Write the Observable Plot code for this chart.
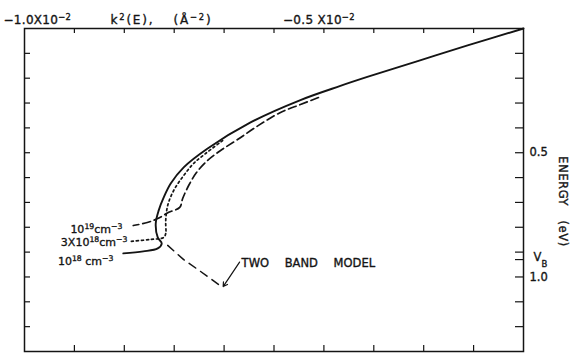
<!DOCTYPE html>
<html>
<head>
<meta charset="utf-8">
<script src="https://cdn.jsdelivr.net/npm/d3@7"></script>
<script src="https://cdn.jsdelivr.net/npm/@observablehq/plot@0.6"></script>
<style>
  html, body { margin: 0; padding: 0; background: #fff; }
</style>
</head>
<body>
<div id="chart"></div>
<script>
// k²(E) in units of 10⁻² Å⁻² (horizontal), energy in eV (increasing downward)

// 10¹⁸ cm⁻³ (solid)
const k18 = [0, -0.112, -0.212, -0.313, -0.367, -0.447, -0.547, -0.633, -0.681, -0.707, -0.721, -0.731, -0.737, -0.733, -0.725, -0.733, -0.762, -0.802];
const e18 = [0, 0.068, 0.131, 0.195, 0.231, 0.288, 0.378, 0.483, 0.559, 0.624, 0.680, 0.732, 0.785, 0.841, 0.865, 0.885, 0.897, 0.905];

// 3×10¹⁸ cm⁻³ (dotted)
const k3e18 = [-0.603, -0.637, -0.661, -0.681, -0.701, -0.713, -0.717, -0.717, -0.721, -0.747, -0.788];
const e3e18 = [0.451, 0.503, 0.543, 0.592, 0.652, 0.712, 0.773, 0.825, 0.841, 0.849, 0.857];

// 10¹⁹ cm⁻³ (dashed)
const k19 = [-0.411, -0.447, -0.487, -0.531, -0.573, -0.607, -0.633, -0.655, -0.671, -0.683, -0.689, -0.711, -0.733, -0.754, -0.782];
const e19 = [0.278, 0.306, 0.338, 0.390, 0.447, 0.491, 0.531, 0.579, 0.632, 0.684, 0.720, 0.740, 0.765, 0.781, 0.793];

// two band model (long dashes)
const kTwoBand = [-0.713, -0.681, -0.647, -0.603];
const eTwoBand = [0.873, 0.930, 0.978, 1.042];

// curve labels, in the order 10¹⁸, 3×10¹⁸, 10¹⁹
const concentrationLabels = ["10¹⁸ cm⁻³", "3X10¹⁸cm⁻³", "10¹⁹cm⁻³"];
const twoBandLabel = "TWO BAND MODEL";

// axis ticks and labels
const kTicks = [-0.9, -0.8, -0.7, -0.6, -0.5, -0.4, -0.3, -0.2, -0.1];
const eTicks = [0.1, 0.2, 0.3, 0.4, 0.5, 0.6, 0.7, 0.8, 0.9, 1.0, 1.1, 1.2];
const topTickValues = [-1.0, -0.5];
const topTickTexts = ["−1.0X10⁻²", "−0.5 X10⁻²"];
const rightTickValues = [0.5, 1.0];
const vB = 0.93;
const kTitle = ["k²(E),", "(Å⁻²)"];
const eTitle = "ENERGY (eV)";

const toRows = (ks, es) => ks.map((k, i) => ({k, E: es[i]}));
const s18 = toRows(k18, e18);
const s3e18 = toRows(k3e18, e3e18);
const s19 = toRows(k19, e19);
const sTwoBand = toRows(kTwoBand, eTwoBand);

const W = 571, H = 353;
const mL = 24, mR = 48, mT = 28, mB = 2;
const innerW = W - mL - mR, innerH = H - mT - mB;
const ink = "#141414";
const font = "DejaVu Sans";
const lettering = {fill: ink, stroke: ink, strokeWidth: 0.35};

const last = a => a[a.length - 1];

const chart = Plot.plot({
  width: W,
  height: H,
  marginLeft: mL,
  marginRight: mR,
  marginTop: mT,
  marginBottom: mB,
  style: {fontFamily: font, background: "#fff", color: ink, overflow: "visible"},
  x: {domain: [-1, 0], axis: null},
  y: {domain: [0, 1.3], reverse: true, axis: null},
  marks: [
    Plot.frame({stroke: ink, strokeWidth: 1.5}),
    // inward ticks on all four sides
    Plot.tickX(kTicks, {x: d => d, insetBottom: innerH - 5, stroke: ink, strokeWidth: 1.2}),
    Plot.tickX(kTicks, {x: d => d, insetTop: innerH - 6, stroke: ink, strokeWidth: 1.2}),
    Plot.tickY(eTicks, {y: d => d, insetRight: innerW - 6, stroke: ink, strokeWidth: 1.2}),
    Plot.tickY([...eTicks, vB], {y: d => d, insetLeft: innerW - 8, stroke: ink, strokeWidth: 1.2}),

    // curves
    Plot.line(s18, {x: "k", y: "E", stroke: ink, strokeWidth: 1.9, curve: "catmull-rom"}),
    Plot.line(s3e18, {x: "k", y: "E", stroke: ink, strokeWidth: 1.7, strokeDasharray: "2,3", curve: "catmull-rom"}),
    Plot.line(s19, {x: "k", y: "E", stroke: ink, strokeWidth: 1.7, strokeDasharray: "8,4", curve: "catmull-rom"}),
    Plot.line(sTwoBand, {x: "k", y: "E", stroke: ink, strokeWidth: 1.5, strokeDasharray: "8,6"}),

    // curve labels at the left ends of the curves
    Plot.text([concentrationLabels[0]], {x: () => last(k18), y: () => last(e18), dx: -10, dy: 8, textAnchor: "end", fontSize: 11, ...lettering}),
    Plot.text([concentrationLabels[1]], {x: () => last(k3e18), y: () => last(e3e18), dx: -3, dy: 1, textAnchor: "end", fontSize: 11, ...lettering}),
    Plot.text([concentrationLabels[2]], {x: () => last(k19), y: () => last(e19), dx: -11, dy: 4, textAnchor: "end", fontSize: 11, ...lettering}),

    // two band model label with arrow to the end of its curve
    Plot.text([twoBandLabel], {x: () => last(kTwoBand), y: () => last(eTwoBand), dx: 19, dy: -24, textAnchor: "start", fontSize: 11.5, ...lettering}),
    Plot.arrow([0], {
      x1: () => last(kTwoBand) + 0.034, y1: () => last(eTwoBand) - 0.102,
      x2: () => last(kTwoBand), y2: () => last(eTwoBand),
      stroke: ink, strokeWidth: 1.2, headLength: 6, insetEnd: 1
    }),

    // top axis labels
    Plot.text([topTickTexts[0]], {x: () => topTickValues[0], frameAnchor: "top", dy: -13, dx: -21, textAnchor: "start", fontSize: 12, ...lettering}),
    Plot.text([topTickTexts[1]], {x: () => topTickValues[1], frameAnchor: "top", dy: -13, dx: 9, textAnchor: "start", fontSize: 12, ...lettering}),
    Plot.text([kTitle[0]], {frameAnchor: "top-left", dx: 86, dy: -13, textAnchor: "start", fontSize: 12, ...lettering}),
    Plot.text([kTitle[1]], {frameAnchor: "top-left", dx: 149, dy: -13, textAnchor: "start", fontSize: 12, ...lettering}),

    // right axis labels
    Plot.text(rightTickValues, {y: d => d, text: d => d.toFixed(1), frameAnchor: "right", dx: 6, textAnchor: "start", fontSize: 11.5, ...lettering}),
    Plot.text(["V"], {y: () => vB, frameAnchor: "right", dx: 10, dy: -2, textAnchor: "start", fontSize: 11.5, ...lettering}),
    Plot.text(["B"], {y: () => vB, frameAnchor: "right", dx: 18, dy: 5, textAnchor: "start", fontSize: 8.5, ...lettering}),
    Plot.text([eTitle], {y: () => 0.696, frameAnchor: "right", dx: 39, rotate: 90, textAnchor: "middle", fontSize: 11.5, ...lettering})
  ]
});

document.getElementById("chart").appendChild(chart);

const texts = d3.select(chart).selectAll("text");
const withText = s => texts.filter(function () { return this.textContent === s; });

// spacing of the hand-lettered annotations
withText(twoBandLabel).style("word-spacing", "12px");
withText(eTitle).style("word-spacing", "10px").style("letter-spacing", "0.6px");
topTickTexts.forEach(s => withText(s).style("letter-spacing", "0.3px"));
kTitle.forEach(s => withText(s).style("letter-spacing", "1.8px"));

// raise superscript characters as smaller digits
const sup = {"⁰": "0", "¹": "1", "²": "2", "³": "3", "⁴": "4", "⁵": "5", "⁶": "6", "⁷": "7", "⁸": "8", "⁹": "9", "⁻": "−"};
texts.each(function () {
  const el = this;
  const chars = [...el.textContent];
  if (!chars.some(c => c in sup)) return;
  const fs = parseFloat(getComputedStyle(el).fontSize);
  const rise = fs * 0.36;
  const runs = [];
  for (const c of chars) {
    const isSup = c in sup;
    if (runs.length && runs[runs.length - 1].sup === isSup) runs[runs.length - 1].s += isSup ? sup[c] : c;
    else runs.push({sup: isSup, s: isSup ? sup[c] : c});
  }
  el.textContent = "";
  runs.forEach((r, i) => {
    const t = d3.select(el).append("tspan").text(r.s);
    if (r.sup) t.attr("font-size", (fs * 0.7) + "px").attr("dy", -rise);
    else if (i > 0) t.attr("dy", rise);
  });
});
</script>
</body>
</html>
